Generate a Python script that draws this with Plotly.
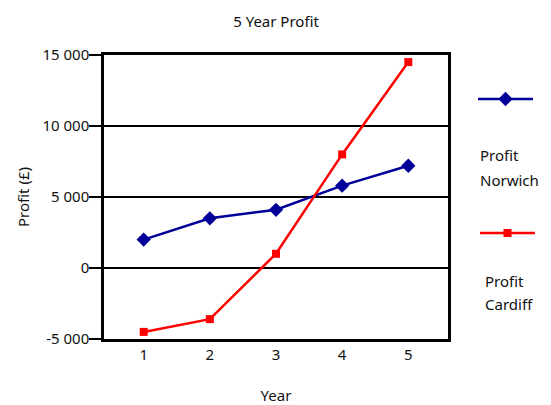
import plotly.graph_objects as go

years = [1, 2, 3, 4, 5]
profit_norwich = [2000, 3500, 4100, 5800, 7200]
profit_cardiff = [-4500, -3600, 1000, 8000, 14500]
y_ticks = [-5000, 0, 5000, 10000, 15000]
y_tick_labels = [f"{v:,}".replace(",", " ") for v in y_ticks]

FONT = "Noto Sans"
W, H = 551, 405

# plot area in pixels
L, R, T, B = 104, 448, 55, 339

fig = go.Figure()
fig.add_trace(go.Scatter(
    x=years, y=profit_norwich, name="", mode="lines+markers",
    line=dict(color="#000099", width=2.5),
    marker=dict(symbol="diamond", size=11, color="#000099"),
    legend="legend",
))
fig.add_trace(go.Scatter(
    x=years, y=profit_cardiff, name="", mode="lines+markers",
    line=dict(color="#ff0000", width=2.5),
    marker=dict(symbol="square", size=8, color="#ff0000"),
    legend="legend2",
))

def px_x(p):
    return p / W

def px_y(p):
    return 1 - p / H

legend_common = dict(
    itemwidth=55, bgcolor="rgba(0,0,0,0)", borderwidth=0,
    xanchor="left", yanchor="middle", font=dict(family=FONT, size=2),
    tracegroupgap=0,
)

text_font = dict(family=FONT, size=15, color="#111111")

annotations = []
for text, x, y in [("Profit", 478, 155), ("Norwich", 478, 180),
                   ("Profit", 483, 281), ("Cardiff", 483, 304)]:
    annotations.append(dict(
        text=text, x=px_x(x), y=px_y(y), xref="paper", yref="paper",
        xanchor="left", yanchor="middle", showarrow=False, font=text_font,
    ))

fig.update_layout(
    width=W, height=H,
    margin=dict(l=0, r=0, t=0, b=0, autoexpand=False),
    paper_bgcolor="white", plot_bgcolor="white",
    font=dict(family=FONT, color="#111111"),
    title=dict(text="5 Year Profit", x=(L + R) / 2 / W, xanchor="center",
               y=px_y(22), yanchor="middle", font=dict(family=FONT, size=15, color="#111111")),
    xaxis=dict(
        domain=[px_x(L), px_x(R)], range=[0.4, 5.6], automargin=False,
        tickvals=years, ticks="", showgrid=False, zeroline=False,
        showline=True, mirror=True, linecolor="black", linewidth=2.5,
        tickfont=text_font,
        title=dict(text="Year", font=text_font, standoff=35),
    ),
    yaxis=dict(
        domain=[px_y(B), px_y(T)], range=[-5000, 15000], automargin=False,
        tickvals=y_ticks, ticktext=y_tick_labels, ticks="outside", ticklen=12,
        tickwidth=2, tickcolor="black", ticklabelstandoff=-3,
        showgrid=True, gridcolor="black", gridwidth=2, zeroline=False,
        showline=True, mirror=True, linecolor="black", linewidth=2.5,
        tickfont=text_font,
        title=dict(text="Profit (£)", font=text_font, standoff=10),
    ),
    legend=dict(x=px_x(473), y=px_y(99), **legend_common),
    legend2=dict(x=px_x(475), y=px_y(233), **legend_common),
    annotations=annotations,
    showlegend=True,
)

fig.write_html("out.html")
